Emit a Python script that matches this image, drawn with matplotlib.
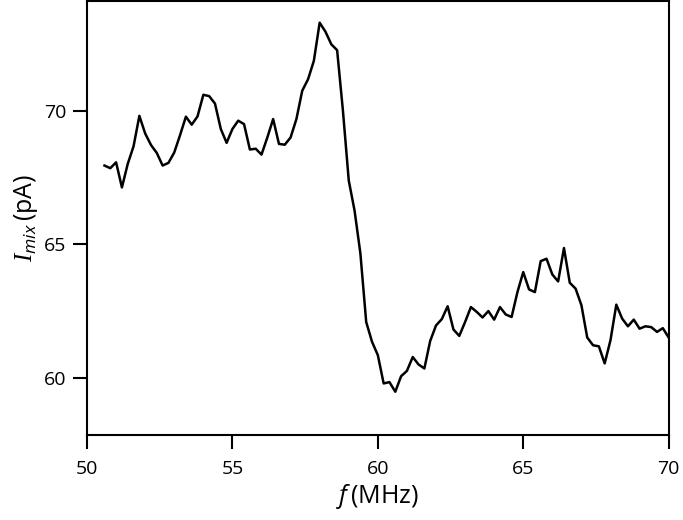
import numpy as np
import matplotlib
matplotlib.use("Agg")
import matplotlib.pyplot as plt

plt.rcParams['font.family'] = ['Open Sans', 'DejaVu Sans']
plt.rcParams['mathtext.fontset'] = 'custom'
plt.rcParams['mathtext.rm'] = 'Open Sans'
plt.rcParams['mathtext.it'] = 'Open Sans:italic'
plt.rcParams['mathtext.cal'] = 'Liberation Serif:italic'

# mixer current vs drive frequency, 0.2 MHz steps
f_start = 50.6
f_step = 0.2
i_mix = [
    67.95, 67.85, 68.07, 67.13, 68.01, 68.67, 69.81, 69.15, 68.72, 68.42,
    67.95, 68.05, 68.44, 69.09, 69.78, 69.48, 69.79, 70.60, 70.55, 70.27,
    69.32, 68.80, 69.32, 69.63, 69.50, 68.55, 68.58, 68.36, 69.00, 69.69,
    68.76, 68.73, 69.00, 69.69, 70.75, 71.18, 71.87, 73.30, 72.96, 72.49,
    72.27, 70.00, 67.39, 66.26, 64.66, 62.09, 61.35, 60.85, 59.79, 59.84,
    59.48, 60.06, 60.26, 60.78, 60.50, 60.35, 61.38, 61.96, 62.20, 62.68,
    61.81, 61.57, 62.09, 62.65, 62.47, 62.26, 62.50, 62.18, 62.65, 62.37,
    62.28, 63.21, 63.96, 63.31, 63.21, 64.37, 64.46, 63.87, 63.61, 64.86,
    63.56, 63.34, 62.72, 61.51, 61.22, 61.18, 60.54, 61.41, 62.74, 62.22,
    61.93, 62.18, 61.84, 61.93, 61.90, 61.72, 61.86, 61.51,
]
freq = f_start + f_step * np.arange(len(i_mix))

fig = plt.figure(figsize=(6.83, 5.2), dpi=100)
ax = fig.add_axes([0.1274, 0.1635, 0.8516, 0.8345])
ax.plot(freq, i_mix, color='black', lw=1.8)

ax.set_xlim(50, 70)
ax.set_ylim(57.86, 74.11)
ax.set_xticks([50, 55, 60, 65, 70])
ax.set_yticks([60, 65, 70])
ax.tick_params(direction='out', length=10, width=1.5, labelsize=14)
ax.tick_params(axis='x', pad=8)
ax.tick_params(axis='y', pad=5)
for s in ax.spines.values():
    s.set_linewidth(1.5)

ax.set_xlabel(r'$f\,$(MHz)', fontsize=18, labelpad=3)
ax.set_ylabel(r'$\mathcal{I}_{mix}\,$(pA)', fontsize=18, labelpad=3)

fig.savefig('out.png', dpi=100)
